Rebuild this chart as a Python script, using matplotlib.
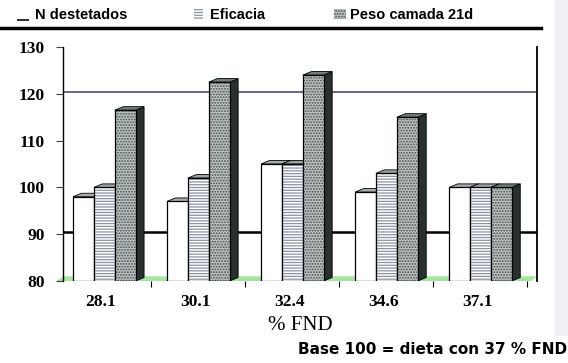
import matplotlib.pyplot as plt
from matplotlib.patches import Polygon, Rectangle
from matplotlib.lines import Line2D

# data (base 100 = diet with 37 % FND)
categories = ["28.1", "30.1", "32.4", "34.6", "37.1"]
series = ["N destetados", "Eficacia", "Peso camada 21d"]
n_destetados = [98, 97, 105, 99, 100]
eficacia = [100, 102, 105, 103, 100]
peso_21d = [116.5, 122.5, 124, 115, 100]
yticks = [80, 90, 100, 110, 120, 130]
ref_lines = [90, 120]

values = [n_destetados, eficacia, peso_21d]

# look of each series: face, hatch, hatch colour, top, side
looks = [
    ("white", "", "white", "#a4acac", "#8c9494"),
    ("white", "------", "#8a92a4", "#98a2a2", "#7c8686"),
    ("#bcc2c2", "......", "#48524f", "#6f807a", "#283030"),
]

Y0 = 80
W, OFF = 0.222, 0.106
DX, DY = 0.09, 0.75

plt.rcParams["hatch.linewidth"] = 0.9

fig = plt.figure(figsize=(5.68, 3.63), dpi=100)
ax = fig.add_axes([63 / 568, 82 / 363, 474 / 568, 234 / 363])
ax.set_xlim(0, 5.04)
ax.set_ylim(80, 130)


def bar3d(x0, h, look, z):
    face, hatch, hcol, top, side = look
    ax.add_patch(Polygon([(x0 + W, Y0), (x0 + W + DX, Y0 + DY),
                          (x0 + W + DX, h + DY), (x0 + W, h)],
                         closed=True, fc=side, ec="black", lw=0.6, zorder=z))
    ax.add_patch(Polygon([(x0, h), (x0 + DX, h + DY),
                          (x0 + W + DX, h + DY), (x0 + W, h)],
                         closed=True, fc=top, ec="black", lw=0.6, zorder=z))
    ax.bar(x0, h - Y0, W, bottom=Y0, align="edge", color=face, hatch=hatch,
           edgecolor=hcol, lw=0, zorder=z)
    ax.bar(x0, h - Y0, W, bottom=Y0, align="edge", fill=False,
           edgecolor="black", lw=0.9, zorder=z)


for i in range(len(categories)):
    for j, vals in enumerate(values):
        bar3d(i + OFF + j * W, vals[i], looks[j], 3 + j)

# back-wall lines and floor
for v, c, lw in zip(ref_lines, ["black", "#5c5c7a"], [1.8, 1.3]):
    ax.axhline(v + DY * 0.5, color=c, lw=lw, zorder=1)
ax.add_patch(Polygon([(-0.065, Y0), (4.98, Y0), (5.04, Y0 + 1.0), (0.0, Y0 + 1.0)],
                     closed=True, fc="#a2e6a0", ec="none", zorder=0.5,
                     clip_on=False))

for s in ["top", "bottom"]:
    ax.spines[s].set_visible(False)
ax.spines["left"].set_linewidth(1.0)
ax.spines["right"].set_linewidth(1.3)

tick_font = dict(family="Liberation Serif", weight="bold", size=12.5)
ax.set_yticks(yticks)
ax.set_yticklabels([str(t) for t in yticks], fontdict=tick_font)
ax.tick_params(axis="y", length=5, width=0.8, pad=8, color="#444444")
ax.set_xticks([i + 0.404 for i in range(len(categories))])
ax.set_xticklabels(categories, fontdict=tick_font)
ax.tick_params(axis="x", which="major", length=0, pad=9)
ax.set_xticks([i + 0.936 for i in range(len(categories))], minor=True)
ax.tick_params(axis="x", which="minor", length=4, width=0.8, direction="out")

ax.set_xlabel("% FND", fontfamily="Liberation Serif", fontsize=15, labelpad=5)

# legend drawn by hand along the top
ly = 0.959
fig.add_artist(Line2D([0.032, 0.049], [0.946, 0.946], color="#333333", lw=1.5))
fig.text(0.062, ly, series[0], fontfamily="Liberation Sans", fontweight="bold",
         fontsize=10.5, va="center")
fig.add_artist(Rectangle((0.3415, 0.948), 0.0158, 0.027, fc="white",
                         hatch="------", ec="#8a92a4", lw=0))
fig.text(0.370, ly, series[1], fontfamily="Liberation Sans", fontweight="bold",
         fontsize=10.5, va="center")
fig.add_artist(Rectangle((0.588, 0.948), 0.021, 0.027, fc="#bcc2c2",
                         hatch="......", ec="#48524f", lw=0))
fig.text(0.616, ly, series[2], fontfamily="Liberation Sans", fontweight="bold",
         fontsize=10.5, va="center")
fig.add_artist(Line2D([0.0, 0.952], [0.923, 0.923], color="black", lw=2.5))

fig.add_artist(Rectangle((0.977, 0.075), 0.023, 0.925, fc="#eef0f6", ec="none",
                         zorder=-1))

fig.text(0.998, 0.025, "Base 100 = dieta con 37 % FND", fontfamily="DejaVu Sans",
         fontweight="bold", fontsize=11, ha="right", va="baseline")

fig.savefig("out.png", dpi=100)
